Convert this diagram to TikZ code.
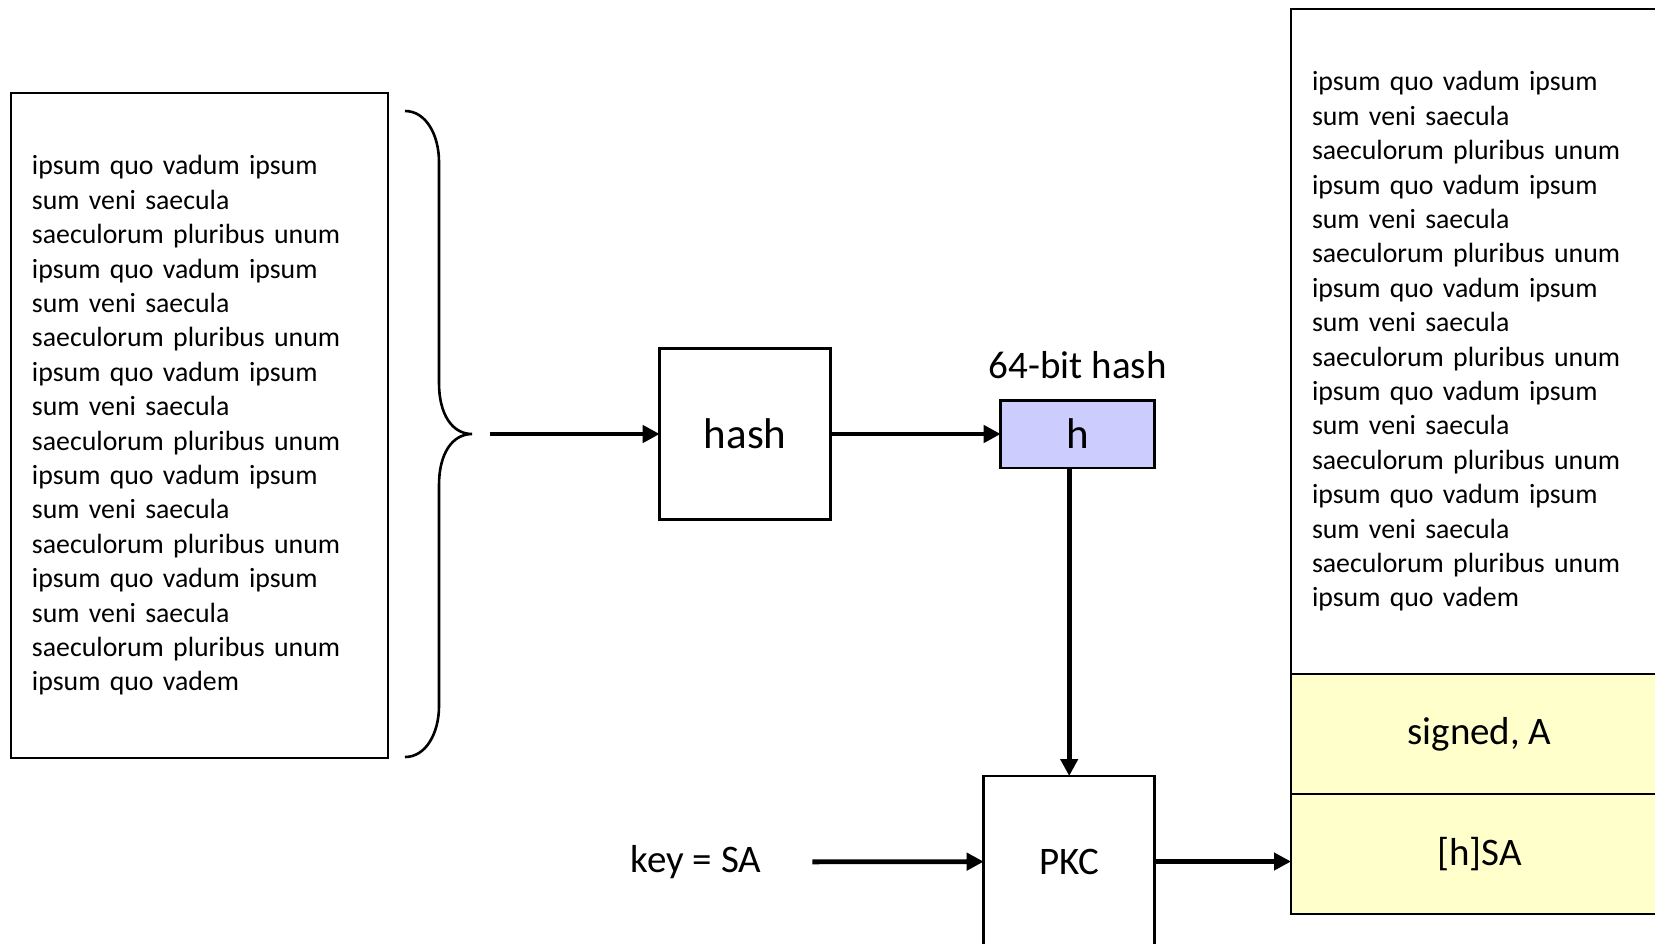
\documentclass[tikz,border=0pt]{standalone}
\usepackage{fontspec}
\setmainfont{Carlito}
\usepackage{xcolor}
\usetikzlibrary{arrows.meta,positioning}
\definecolor{hashblue}{HTML}{CCCCFF}
\definecolor{signyellow}{HTML}{FFFFCC}
\newcommand{\msgstanza}{ipsum quo vadum ipsum\\ sum veni saecula\\ saeculorum pluribus unum\\}
\newcommand{\msglines}{\msgstanza\msgstanza\msgstanza\msgstanza\msgstanza ipsum quo vadem}

\begin{document}
\begin{tikzpicture}[
  x=0.5pt, y=-0.5pt,
  msg/.style={draw, line width=1.3pt, outer sep=0pt, minimum width=188.5pt,
              minimum height=332.5pt, text width=167.5pt, inner xsep=10.5pt,
              align=left, font=\fontsize{13.9}{17.2}\selectfont},
  blk/.style={draw, line width=1.3pt, outer sep=0pt, minimum width=85.5pt,
              minimum height=85.5pt, font=\fontsize{19.5}{23.5}\selectfont},
  part/.style={draw, line width=1.3pt, outer sep=0pt, fill=signyellow,
               minimum width=188.5pt, minimum height=60pt,
               font=\fontsize{19.5}{23.5}\selectfont},
  lbl/.style={font=\fontsize{19.5}{23.5}\selectfont},
  flow/.style={->, line width=2.4pt},
  >={Triangle[length=8.5pt, width=8.5pt]},
]
\useasboundingbox (0,0) rectangle (1655,943);
\clip (0,0) rectangle (1655,943);
% message and its brace
\node[msg] (msg) at (199.5,425.5) {\msglines};
\draw[line width=1.3pt] (405,111) .. controls (426,111) and (439,135) .. (439,162)
  -- (439,383) .. controls (439,414) and (452,434) .. (472,434)
  .. controls (452,434) and (439,454) .. (439,485)
  -- (439,706) .. controls (439,733) and (426,757) .. (405,757);
\coordinate (bracetip) at (490,434);
% hashing
\node[blk, font=\fontsize{21.5}{26}\selectfont] (hash) at (745.2,434) {hash};
\node[blk, fill=hashblue, minimum width=77pt, minimum height=33.8pt,
      font=\fontsize{21.5}{26}\selectfont] (h) at (1077.7,434) {h};
\node[lbl, above=7pt of h] (hlabel) {64-bit hash};
% signing
\node[blk] (pkc) at (1069.2,861.5) {PKC};
\node[lbl] (key) at (696,862) {key = SA};
% signed message
\node[msg] (body) at (1479.5,341.5) {\msglines};
\node[part, below=0pt of body] (signed) {signed, A};
\node[part, below=0pt of signed] (sig) {[h]SA};
\draw[flow] (bracetip) -- (hash);
\draw[flow] (hash) -- (h);
\draw[flow] (h.south -| pkc.north) -- (pkc);
\draw[flow, shorten <=22pt] (key) -- (pkc);
\draw[flow] (pkc) -- (pkc -| sig.west);
\end{tikzpicture}
\end{document}
